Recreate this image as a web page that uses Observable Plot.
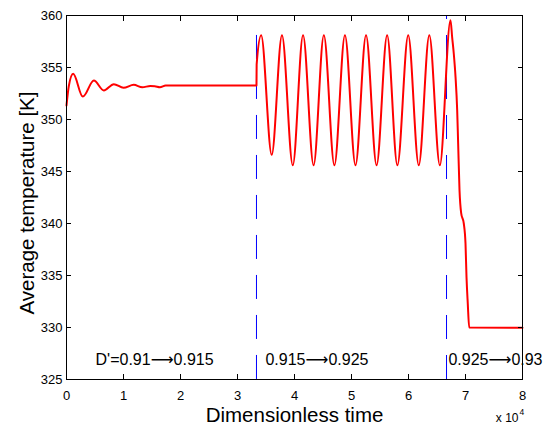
<!DOCTYPE html>
<html><head><meta charset="utf-8">
<script src="https://cdn.jsdelivr.net/npm/d3@7"></script>
<script src="https://cdn.jsdelivr.net/npm/@observablehq/plot@0.6"></script>
<style>body{margin:0;background:#fff}</style>
</head><body><div id="chart"></div>
<script>
// Dimensionless time (x 10^4) and average temperature [K]
const time = [
  0, 0.04, 0.117, 0.286, 0.48, 0.655, 0.83, 1.0, 1.18, 1.33, 1.47, 1.55, 1.64, 1.74, 3.333,
  3.336, 3.415, 3.60, 3.78, 3.97, 4.15, 4.335, 4.515, 4.70, 4.885, 5.07, 5.255, 5.44,
  5.625, 5.805, 5.995, 6.18, 6.365, 6.55, 6.737, 6.766, 6.795, 6.825, 6.854, 6.871,
  6.895, 6.924, 6.97, 7.0, 7.018, 7.04, 7.065, 8.0
];
const temperature = [
  351.35, 353.2, 354.4, 352.2, 353.75, 352.8, 353.4, 353.05, 353.33, 353.1, 353.22, 353.2, 353.1, 353.27, 353.27,
  355.3, 358.1, 346.6, 358.1, 345.6, 358.1, 345.6, 358.1, 345.6, 358.1, 345.6, 358.1, 345.6,
  358.1, 345.6, 358.1, 345.6, 358.1, 345.6, 359.55, 357.9, 356.3, 354.1, 350.9, 347.7,
  343.2, 341.0, 340.0, 338.1, 334.8, 332.3, 330.0, 329.97
];
const switchTimes = [3.333, 6.667];
const switchTop = [358.08, 360];
const stageLabels = ["D'=0.91\u27F60.915", "0.915\u27F60.925", "0.925\u27F60.93"];
const stageLabelX = [0.51, 3.49, 6.70];
const stageLabelY = [326.35, 326.35, 326.35];
const xTicks = [0, 1, 2, 3, 4, 5, 6, 7, 8];
const yTicks = [325, 330, 335, 340, 345, 350, 355, 360];
const xTitle = "Dimensionless time";
const yTitle = "Average temperature [K]";

const data = time.map((t, i) => ({t, T: temperature[i]}));
const font = "'Liberation Sans', Arial, Helvetica, 'DejaVu Sans', sans-serif";

const chart = Plot.plot({
  width: 549, height: 434,
  marginLeft: 66, marginRight: 27, marginTop: 15, marginBottom: 55,
  x: {domain: [0, 8]},
  y: {domain: [325, 360]},
  style: {fontFamily: font, background: "white", color: "black", overflow: "visible"},
  marks: [
    Plot.ruleX([switchTimes[0]], {x: d => d, y1: () => switchTop[0], y2: () => 325,
      stroke: "#0000ff", strokeWidth: 1, strokeDasharray: "24,16"}),
    Plot.ruleX([switchTimes[1]], {x: d => d, y1: () => switchTop[1], y2: () => 325,
      stroke: "#0000ff", strokeWidth: 1, strokeDasharray: "24,16", strokeDashoffset: 20}),
    Plot.line(data, {x: "t", y: "T", curve: "monotone-x", stroke: "#ff0000", strokeWidth: 2}),
    Plot.frame({stroke: "black"}),
    Plot.axisX({ticks: xTicks, anchor: "bottom", tickSize: -5, tickFormat: () => "", label: null}),
    Plot.axisX({ticks: xTicks, anchor: "top", tickSize: -5, tickFormat: () => "", label: null}),
    Plot.axisY({ticks: yTicks, anchor: "left", tickSize: -5, tickFormat: () => "", label: null}),
    Plot.axisY({ticks: yTicks, anchor: "right", tickSize: -5, tickFormat: () => "", label: null}),
    Plot.axisX({ticks: xTicks, anchor: "bottom", tickSize: 0, tickPadding: 11, fontSize: 13, label: null}),
    Plot.axisY({ticks: yTicks, anchor: "left", tickSize: 0, tickPadding: 4, fontSize: 13, label: null}),
    Plot.text(stageLabels, {x: (d, i) => stageLabelX[i], y: (d, i) => stageLabelY[i], text: d => d,
      textAnchor: "start", lineAnchor: "bottom", fontSize: 16, fill: "black"}),
    Plot.text([xTitle], {text: d => d, frameAnchor: "bottom", dy: 42.7, textAnchor: "middle", lineAnchor: "bottom", fontSize: 20.5, fill: "black"}),
    Plot.text([yTitle], {text: d => d, frameAnchor: "left", rotate: -90, dx: -33, dy: 5.5, textAnchor: "middle", lineAnchor: "bottom", fontSize: 20.5, fill: "black"}),
    Plot.text(["x 10"], {text: d => d, frameAnchor: "bottom-right", dx: -4, dy: 42.7, textAnchor: "end", lineAnchor: "bottom", fontSize: 12, fill: "black"}),
    Plot.text(["4"], {text: d => d, frameAnchor: "bottom-right", dx: -3, dy: 35, textAnchor: "start", lineAnchor: "bottom", fontSize: 8.5, fill: "black"})
  ]
});
document.getElementById("chart").appendChild(chart);
</script>
</body></html>
